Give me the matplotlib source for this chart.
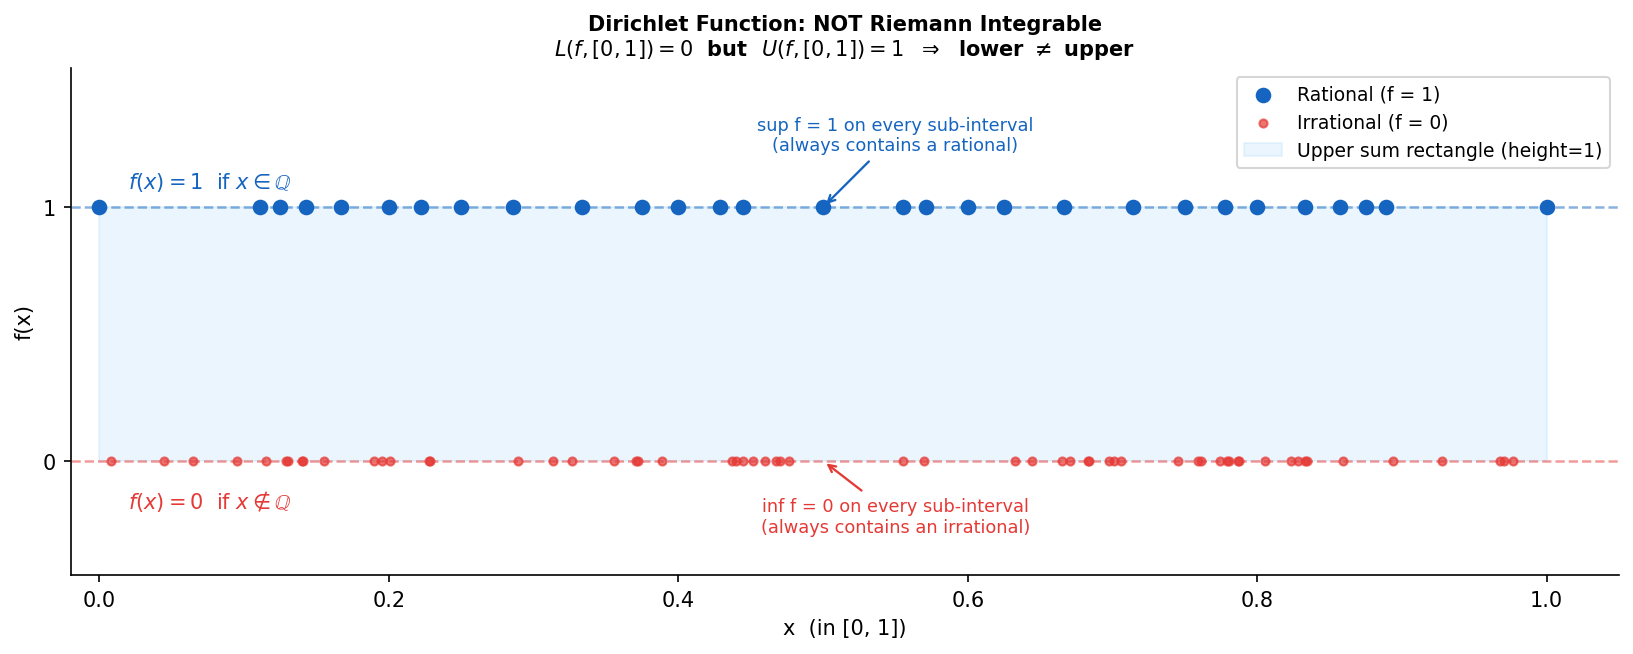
import matplotlib
matplotlib.use("Agg")
import matplotlib.pyplot as plt
import numpy as np

# rationals in [0, 1] with denominator <= 9 (as drawn)
rational_x = [0, 1/9, 1/8, 1/7, 1/6, 1/5, 2/9, 1/4, 2/7, 1/3, 3/8, 2/5, 3/7, 4/9,
              1/2, 5/9, 4/7, 3/5, 5/8, 2/3, 5/7, 3/4, 7/9, 4/5, 5/6, 6/7, 7/8, 8/9, 1]

# irrational sample points
irrational_x = [0.0080, 0.0445, 0.0643, 0.0947, 0.1154, 0.1286, 0.1304, 0.1400, 0.1405,
                0.1548, 0.1899, 0.1954, 0.2007, 0.2275, 0.2285,
                0.2890, 0.3132, 0.3264, 0.3552, 0.3710, 0.3718, 0.3884, 0.4373, 0.4396,
                0.4449, 0.4515, 0.4596, 0.4672, 0.4702, 0.4764,
                0.5550, 0.5696, 0.6325, 0.6443, 0.6652, 0.6707, 0.6830, 0.6840, 0.6977,
                0.7012, 0.7060, 0.7454, 0.7589, 0.7612, 0.7745, 0.7789, 0.7807, 0.7868,
                0.7876, 0.8056,
                0.8234, 0.8284, 0.8333, 0.8345, 0.8595, 0.8941, 0.9278, 0.9681, 0.9709, 0.9767]

blue = "#1565C0"
red = "#E53935"

fig = plt.figure(figsize=(1633/150, 655/150), dpi=150)
ax = fig.add_axes([0.0432, 0.1206, 0.9482, 0.7745])

ax.axhline(1, color=blue, ls="--", lw=1.2, alpha=0.5)
ax.axhline(0, color=red, ls="--", lw=1.2, alpha=0.5)

ax.scatter(rational_x, np.ones(len(rational_x)), s=42, color=blue, zorder=5,
           label="Rational (f = 1)")
ax.scatter(irrational_x, np.zeros(len(irrational_x)), s=15, color=red, alpha=0.7,
           zorder=5, label="Irrational (f = 0)")
ax.fill_between([0, 1], 0, 1, color="#BBDEFB", alpha=0.3,
                label="Upper sum rectangle (height=1)")

ax.text(0.02, 1.1, r"$f(x) = 1$  if $x \in \mathbb{Q}$", color=blue, fontsize=10,
        va="center")
ax.text(0.02, -0.155, r"$f(x) = 0$  if $x \notin \mathbb{Q}$", color=red, fontsize=10,
        va="center")

ax.annotate("sup f = 1 on every sub-interval\n(always contains a rational)",
            xy=(0.5, 1.0), xytext=(0.55, 1.285), ha="center", va="center",
            fontsize=8.5, color=blue,
            arrowprops=dict(arrowstyle="->", color=blue, lw=1.1))
ax.annotate("inf f = 0 on every sub-interval\n(always contains an irrational)",
            xy=(0.5, 0.0), xytext=(0.55, -0.22), ha="center", va="center",
            fontsize=8.5, color=red,
            arrowprops=dict(arrowstyle="->", color=red, lw=1.1))

ax.set_xlim(-0.02, 1.05)
ax.set_ylim(-0.45, 1.55)
ax.set_yticks([0, 1])
ax.tick_params(labelsize=10)
ax.set_xlabel("x  (in [0, 1])", fontsize=10)
ax.set_ylabel("f(x)", fontsize=10)
ax.set_title("Dirichlet Function: NOT Riemann Integrable\n"
             r"$L(f,[0,1]) = 0$  but  $U(f,[0,1]) = 1$  $\Rightarrow$  lower $\neq$ upper",
             fontsize=10, fontweight="bold")
ax.spines["top"].set_visible(False)
ax.spines["right"].set_visible(False)
ax.legend(loc="upper right", fontsize=9)

fig.savefig("out.png", dpi=150)
